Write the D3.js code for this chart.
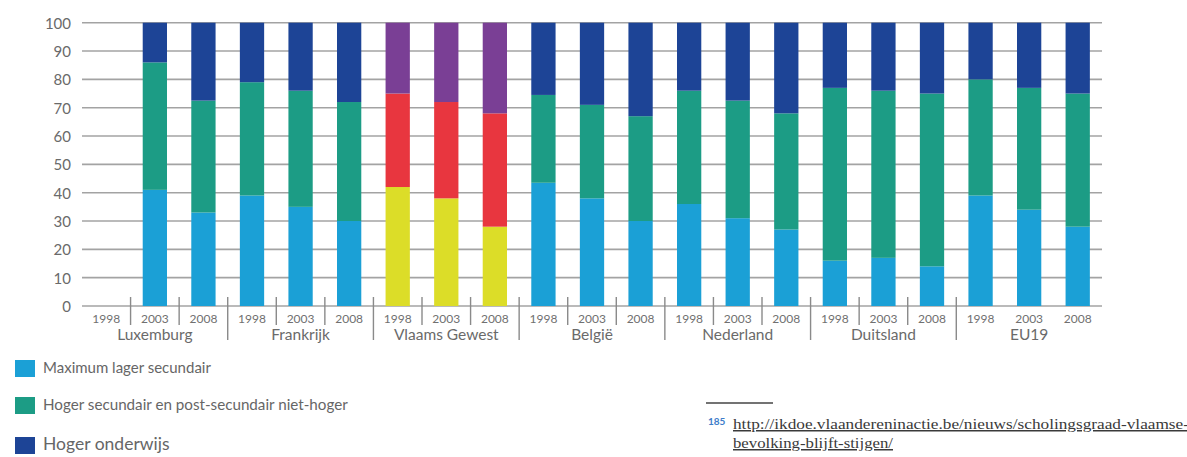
<!DOCTYPE html>
<html>
<head>
<meta charset="utf-8">
<script src="https://cdn.jsdelivr.net/npm/d3@7"></script>
<style>
  html, body { margin: 0; padding: 0; background: #fff; }
  svg { display: block; }
</style>
</head>
<body>
<svg id="chart" width="1187" height="457"></svg>
<script>
// Regions and survey years
const regions = ["Luxemburg", "Frankrijk", "Vlaams Gewest", "België", "Nederland", "Duitsland", "EU19"];
const years = ["1998", "2003", "2008"];

// Share of the population (%) per education level, per region and year (null = no data)
const lowerSecondary = [
  null, 41, 33,
  39, 35, 30,
  42, 38, 28,
  43.5, 38, 30,
  36, 31, 27,
  16, 17, 14,
  39, 34, 28
];
const upperSecondary = [
  null, 45, 39.5,
  40, 41, 42,
  33, 34, 40,
  31, 33, 37,
  40, 41.5, 41,
  61, 59, 61,
  41, 43, 47
];
const higherEducation = [
  null, 14, 27.5,
  21, 24, 28,
  25, 28, 32,
  25.5, 29, 33,
  24, 27.5, 32,
  23, 24, 25,
  20, 23, 25
];

const yTicks = [0, 10, 20, 30, 40, 50, 60, 70, 80, 90, 100];
const legendLabels = [
  "Maximum lager secundair",
  "Hoger secundair en post-secundair niet-hoger",
  "Hoger onderwijs"
];
const footnoteNumber = "185";
const footnoteLines = [
  "http://ikdoe.vlaandereninactie.be/nieuws/scholingsgraad-vlaamse-",
  "bevolking-blijft-stijgen/"
];

// Palettes: the default one and the highlighted one for Vlaams Gewest
const palette = ["#1ba0d6", "#1c9c85", "#1d4496"];
const highlightPalette = ["#dcdd28", "#e8363f", "#7a3f95"];
const highlightRegion = "Vlaams Gewest";

const svg = d3.select("#chart");
const font = "'Lato', 'Open Sans', sans-serif";

// One slot per (region, year)
const slots = [];
regions.forEach(r => years.forEach(yr => slots.push({ region: r, year: yr, key: r + "|" + yr })));
slots.forEach((s, i) => {
  s.values = [lowerSecondary[i], upperSecondary[i], higherEducation[i]];
});

const x = d3.scaleBand()
  .domain(slots.map(s => s.key))
  .range([82, 1102])
  .paddingInner(0.5)
  .paddingOuter(0.25);

const y = d3.scaleLinear().domain([0, 100]).range([306, 22.7]);

// Horizontal gridlines
svg.append("g")
  .selectAll("line")
  .data(yTicks)
  .join("line")
  .attr("x1", 82)
  .attr("x2", 1102)
  .attr("y1", d => y(d))
  .attr("y2", d => y(d))
  .attr("stroke", "#a3a3a3")
  .attr("stroke-width", 1.6);

// Y axis labels
const yAxis = d3.axisLeft(y).tickValues(yTicks).tickSize(0).tickPadding(0);
const yg = svg.append("g").attr("transform", "translate(71,0)").call(yAxis);
yg.select(".domain").remove();
yg.selectAll("text")
  .attr("font-family", font)
  .attr("font-size", 15)
  .attr("fill", "#6a6a6a")
  .attr("dy", "0.36em");

// Stacked bars
const stack = d3.stack().keys([0, 1, 2]).value((d, k) => d.values[k] || 0);
const series = stack(slots.filter(s => s.values[0] !== null));

const barsG = svg.append("g");
series.forEach((layer, li) => {
  barsG.selectAll(null)
    .data(layer)
    .join("rect")
    .attr("x", d => x(d.data.key))
    .attr("width", x.bandwidth())
    .attr("y", d => y(d[1]))
    .attr("height", d => y(d[0]) - y(d[1]))
    .attr("fill", d => (d.data.region === highlightRegion ? highlightPalette : palette)[li]);
});

// Separators below the axis: short between years, long between regions (none inside EU19)
const step = x.step();
const sepG = svg.append("g").attr("stroke", "#8a8a8a").attr("stroke-width", 1.4);
slots.forEach((s, i) => {
  if (i === 0) return;
  const boundary = x(s.key) - (step - x.bandwidth()) / 2;
  const newRegion = s.year === years[0];
  if (!newRegion && s.region === "EU19") return;
  sepG.append("line")
    .attr("x1", boundary).attr("x2", boundary)
    .attr("y1", 297).attr("y2", newRegion ? 340 : 325);
});

// Year labels
svg.append("g")
  .selectAll("text")
  .data(slots)
  .join("text")
  .attr("x", d => x(d.key) + x.bandwidth() / 2)
  .attr("y", 323)
  .attr("text-anchor", "middle")
  .attr("font-family", font)
  .attr("font-size", 12)
  .attr("fill", "#707070")
  .text(d => d.year);

// Region labels
svg.append("g")
  .selectAll("text")
  .data(regions)
  .join("text")
  .attr("x", r => x(r + "|" + years[1]) + x.bandwidth() / 2)
  .attr("y", 340)
  .attr("text-anchor", "middle")
  .attr("font-family", font)
  .attr("font-size", 15.5)
  .attr("fill", "#6a6a6a")
  .text(r => r);

// Legend
const legendRows = [
  { label: legendLabels[0], color: palette[0], top: 360, size: 15 },
  { label: legendLabels[1], color: palette[1], top: 397, size: 15.2 },
  { label: legendLabels[2], color: palette[2], top: 437, size: 17.5 }
];
const lg = svg.append("g");
legendRows.forEach(r => {
  lg.append("rect")
    .attr("x", 15).attr("y", r.top)
    .attr("width", 20).attr("height", 17)
    .attr("fill", r.color);
  lg.append("text")
    .attr("x", 43).attr("y", r.top + 13)
    .attr("font-family", font)
    .attr("font-size", r.size)
    .attr("fill", "#666")
    .text(r.label);
});

// Footnote
const fn = svg.append("g");
fn.append("line")
  .attr("x1", 706).attr("x2", 773)
  .attr("y1", 403).attr("y2", 403)
  .attr("stroke", "#444").attr("stroke-width", 1.5);
fn.append("text")
  .attr("x", 708).attr("y", 425)
  .attr("font-family", font)
  .attr("font-size", 10)
  .attr("font-weight", "bold")
  .attr("fill", "#3d7cc9")
  .text(footnoteNumber);
const footnoteWidths = [456, 160];
footnoteLines.forEach((t, i) => {
  fn.append("text")
    .attr("x", 733).attr("y", 429 + i * 19)
    .attr("font-family", "'Liberation Serif', serif")
    .attr("font-size", 15)
    .attr("textLength", footnoteWidths[i])
    .attr("lengthAdjust", "spacingAndGlyphs")
    .attr("fill", "#3a3a3a")
    .attr("text-decoration", "underline")
    .text(t);
});
</script>
</body>
</html>
